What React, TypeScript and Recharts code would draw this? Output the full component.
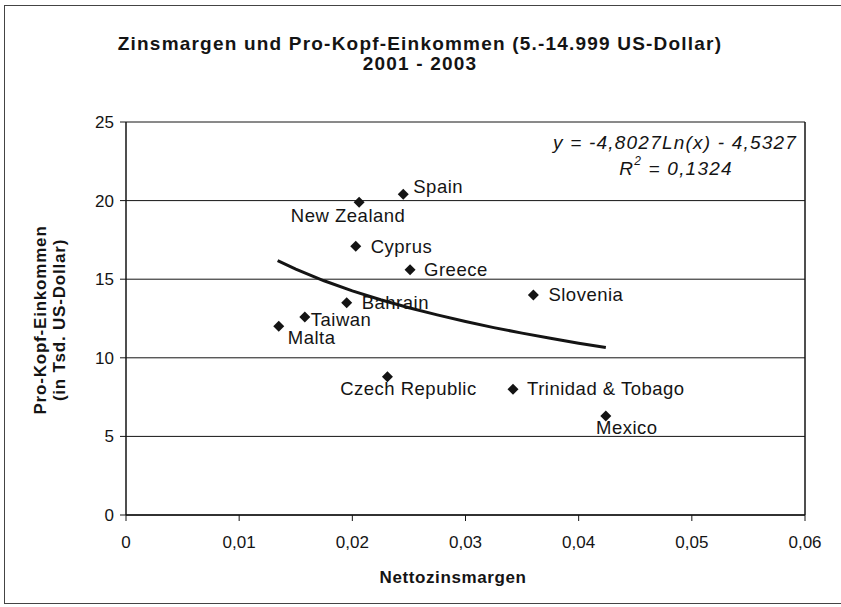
import React from 'react';
import { ScatterChart, Scatter, XAxis, YAxis, CartesianGrid, ReferenceLine } from 'recharts';

// ---- data ----
const countries = ['Spain', 'New Zealand', 'Cyprus', 'Greece', 'Bahrain', 'Taiwan', 'Malta', 'Slovenia', 'Czech Republic', 'Trinidad & Tobago', 'Mexico'];
const netInterestMargin = [0.0245, 0.0206, 0.0203, 0.0251, 0.0195, 0.0158, 0.0135, 0.036, 0.0231, 0.0342, 0.0424];
const incomePerCapita = [20.4, 19.9, 17.1, 15.6, 13.5, 12.6, 12.0, 14.0, 8.8, 8.0, 6.3];

const trendX = [0.0134, 0.015, 0.0175, 0.02, 0.0225, 0.025, 0.0275, 0.03, 0.0325, 0.035, 0.0375, 0.04, 0.0424];
const trendY = [16.18, 15.64, 14.9, 14.26, 13.69, 13.18, 12.73, 12.31, 11.92, 11.57, 11.24, 10.93, 10.65];

const xTicks = [0, 0.01, 0.02, 0.03, 0.04, 0.05, 0.06];
const yTicks = [0, 5, 10, 15, 20, 25];

const titleLines = ['Zinsmargen und Pro-Kopf-Einkommen (5.-14.999 US-Dollar)', '2001 - 2003'];
const xTitle = 'Nettozinsmargen';
const yTitleLines = ['Pro-Kopf-Einkommen', '(in Tsd. US-Dollar)'];
const equationText = 'y = -4,8027Ln(x) - 4,5327';
const r2Value = '0,1324';

const points = countries.map((name, i) => ({ name, x: netInterestMargin[i], y: incomePerCapita[i] }));
const trend = trendX.map((x, i) => ({ x, y: trendY[i] }));

// ---- label layout (style, not data) ----
const labelLayout: Record<string, { dx: number; dy: number; anchor: 'start' | 'middle' | 'end' }> = {
  'Spain': { dx: 10, dy: -8, anchor: 'start' },
  'New Zealand': { dx: -11, dy: 13, anchor: 'middle' },
  'Cyprus': { dx: 15, dy: 0, anchor: 'start' },
  'Greece': { dx: 14, dy: 0, anchor: 'start' },
  'Bahrain': { dx: 15, dy: 0, anchor: 'start' },
  'Taiwan': { dx: 6, dy: 3, anchor: 'start' },
  'Malta': { dx: 9, dy: 11, anchor: 'start' },
  'Slovenia': { dx: 15, dy: 0, anchor: 'start' },
  'Czech Republic': { dx: 21, dy: 12, anchor: 'middle' },
  'Trinidad & Tobago': { dx: 14, dy: -1, anchor: 'start' },
  'Mexico': { dx: 21, dy: 12, anchor: 'middle' },
};

const FONT = '"Liberation Sans", Arial, Helvetica, sans-serif';
const INK = '#141414';

const DiamondWithLabel = (props: any) => {
  const { cx, cy, payload } = props;
  if (cx == null || cy == null) return <g />;
  const s = 5.5;
  const o = labelLayout[payload.name] || { dx: 10, dy: 0, anchor: 'start' };
  return (
    <g>
      <polygon points={`${cx},${cy - s} ${cx + s},${cy} ${cx},${cy + s} ${cx - s},${cy}`} fill={INK} />
      <text
        x={cx + o.dx}
        y={cy + o.dy}
        textAnchor={o.anchor}
        dominantBaseline="central"
        fontSize={18.5}
        letterSpacing={0.5}
        fontFamily={FONT}
        fill={INK}
      >
        {payload.name}
      </text>
    </g>
  );
};

const fmtX = (v: number) => (v === 0 ? '0' : v.toFixed(2).replace('.', ','));

export default function App() {
  return (
    <div style={{ position: 'absolute', left: 0, top: 0, width: 841, height: 607, background: '#fff' }}>
      <ScatterChart width={841} height={607} margin={{ top: 122, right: 36, bottom: 0, left: 0 }}>
        <CartesianGrid horizontal vertical={false} stroke={INK} strokeWidth={1} />
        <XAxis
          type="number"
          dataKey="x"
          domain={[0, 0.06]}
          ticks={xTicks}
          tickFormatter={fmtX}
          height={92}
          stroke={INK}
          tickSize={6}
          tickMargin={15}
          tick={{ fill: INK, fontSize: 17, fontFamily: FONT }}
          axisLine={{ stroke: INK, strokeWidth: 1.5 }}
          tickLine={{ stroke: INK }}
          allowDataOverflow
        />
        <YAxis
          type="number"
          dataKey="y"
          domain={[0, 25]}
          ticks={yTicks}
          width={126}
          stroke={INK}
          tickSize={6}
          tickMargin={6}
          tick={{ fill: INK, fontSize: 17, fontFamily: FONT }}
          axisLine={{ stroke: INK, strokeWidth: 1.5 }}
          tickLine={{ stroke: INK }}
        />
        <ReferenceLine x={0.06} stroke={INK} strokeWidth={1.5} />
        <Scatter data={points} shape={DiamondWithLabel} isAnimationActive={false} />
        <Scatter
          data={trend}
          line={{ stroke: INK, strokeWidth: 3 }}
          shape={() => <g />}
          isAnimationActive={false}
        />
      </ScatterChart>
      <svg
        width={841}
        height={607}
        style={{ position: 'absolute', left: 0, top: 0, pointerEvents: 'none' }}
        fontFamily={FONT}
      >
        <rect x={4.5} y={5.5} width={900} height={598} fill="none" stroke="#444" strokeWidth={1} />
        <text x={420} y={43} textAnchor="middle" dominantBaseline="central" fontSize={19} fontWeight="bold" fill={INK} letterSpacing={1.2}>
          {titleLines[0]}
        </text>
        <text x={420} y={63} textAnchor="middle" dominantBaseline="central" fontSize={19} fontWeight="bold" fill={INK} letterSpacing={1.2}>
          {titleLines[1]}
        </text>
        <text x={453} y={577} textAnchor="middle" dominantBaseline="central" fontSize={17} fontWeight="bold" fill={INK} letterSpacing={0.6}>
          {xTitle}
        </text>
        <g transform="translate(40,320) rotate(-90)">
          <text x={0} y={0} textAnchor="middle" dominantBaseline="central" fontSize={17} fontWeight="bold" fill={INK} letterSpacing={0.8}>
            {yTitleLines[0]}
          </text>
        </g>
        <g transform="translate(59,320) rotate(-90)">
          <text x={0} y={0} textAnchor="middle" dominantBaseline="central" fontSize={17} fontWeight="bold" fill={INK} letterSpacing={0.8}>
            {yTitleLines[1]}
          </text>
        </g>
        <text x={797} y={142} textAnchor="end" dominantBaseline="central" fontSize={19} fontStyle="italic" fill={INK} letterSpacing={1.2}>
          {equationText}
        </text>
        <text x={676} y={168} textAnchor="middle" dominantBaseline="central" fontSize={19} fontStyle="italic" fill={INK} letterSpacing={1.2}>
          <tspan>R</tspan>
          <tspan dy={-7} fontSize={12}>2</tspan>
          <tspan dy={7}>{' = ' + r2Value}</tspan>
        </text>
      </svg>
    </div>
  );
}
